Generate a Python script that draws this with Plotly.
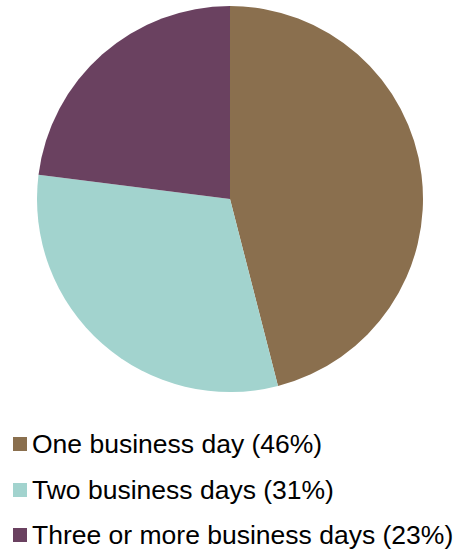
import plotly.graph_objects as go

# Share of requests by business days needed
labels = ["One business day", "Two business days", "Three or more business days"]
values = [46, 31, 23]
colors = ["#8A6F4E", "#A2D3CE", "#6A4160"]

W, H = 459, 552


def px_y(y):
    return 1 - y / H


fig = go.Figure(
    go.Pie(
        labels=labels,
        values=values,
        sort=False,
        direction="clockwise",
        rotation=0,
        textinfo="none",
        marker=dict(colors=colors, line=dict(width=0)),
        domain=dict(x=[37 / W, 423 / W], y=[px_y(392), px_y(6)]),
        showlegend=False,
    )
)

# Legend drawn as swatches plus labels
rows = [444, 490, 535]
shapes = []
annotations = []
for lab, val, col, cy in zip(labels, values, colors, rows):
    shapes.append(dict(
        type="rect", xref="paper", yref="paper",
        x0=13 / W, x1=27 / W, y0=px_y(cy + 7), y1=px_y(cy - 7),
        fillcolor=col, line=dict(width=0),
    ))
    annotations.append(dict(
        text=f"{lab} ({val}%)", xref="paper", yref="paper",
        x=31 / W, y=px_y(cy), xanchor="left", yanchor="middle",
        showarrow=False, borderpad=0,
        font=dict(family="Liberation Sans, Arial", size=26.5, color="#000000"),
    ))

fig.update_layout(
    width=W, height=H,
    margin=dict(l=0, r=0, t=0, b=0),
    paper_bgcolor="white",
    plot_bgcolor="white",
    shapes=shapes,
    annotations=annotations,
)

fig.write_html("out.html")
